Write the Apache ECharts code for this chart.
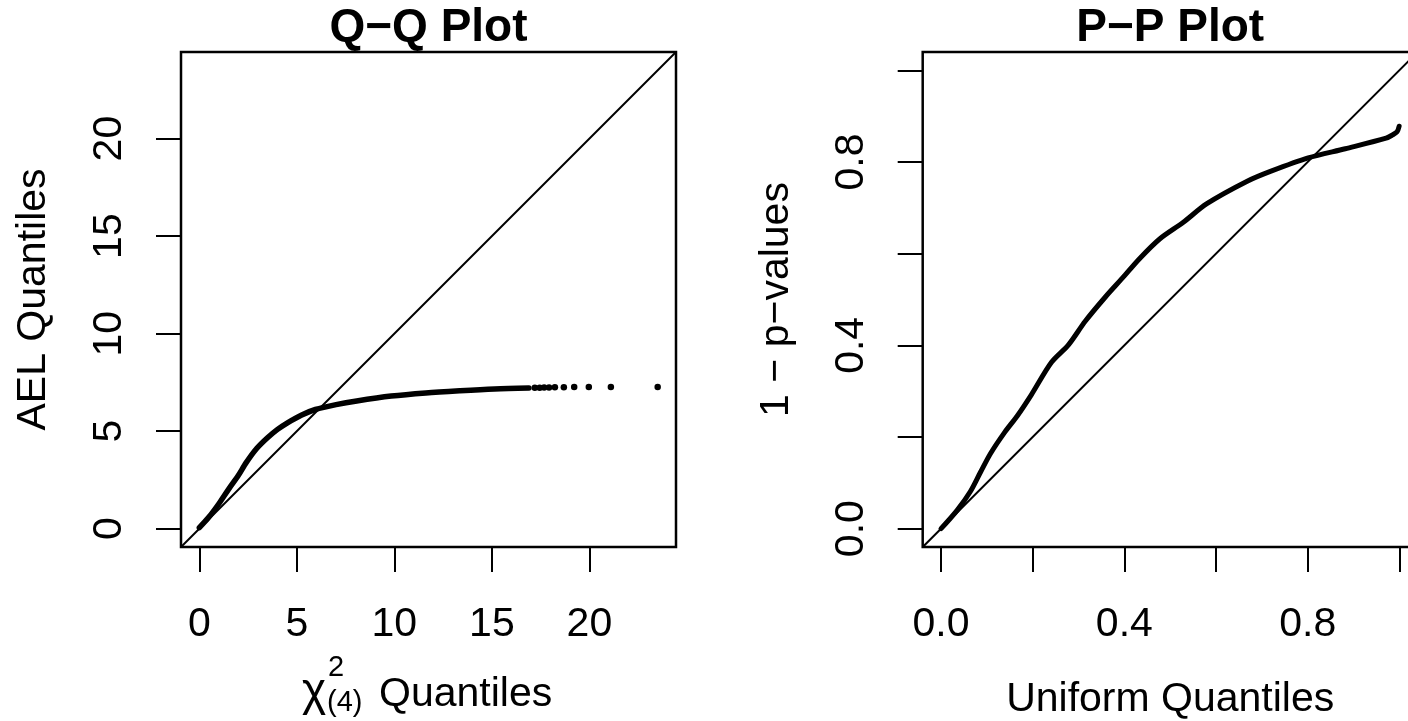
<!DOCTYPE html>
<html><head><meta charset="utf-8">
<script src="https://cdn.jsdelivr.net/npm/echarts@6/dist/echarts.min.js"></script>
<style>html,body{margin:0;padding:0;background:#fff}#c{width:1408px;height:721px}</style>
</head><body><div id="c"></div><script>
// Q-Q plot: chi-square(4) quantiles (x) vs AEL quantiles (y), dense part
const qqX = [0, 0.48, 1.01, 1.54, 1.98, 2.42, 2.95, 3.48, 4.01, 4.54, 5.25, 5.95, 7.01, 8.07, 9.84, 11.61, 13.37, 15.14, 16.9];
const qqY = [0.05, 0.58, 1.29, 2.08, 2.70, 3.41, 4.12, 4.65, 5.09, 5.44, 5.83, 6.11, 6.36, 6.55, 6.80, 6.96, 7.07, 7.16, 7.21];
// Q-Q plot: sparse tail points
const qqTailX = [17.2, 17.45, 17.68, 17.93, 18.23, 18.69, 19.22, 19.97, 21.1, 23.5];
const qqTailY = [7.22, 7.23, 7.24, 7.24, 7.25, 7.25, 7.26, 7.26, 7.27, 7.27];
// P-P plot: uniform quantiles (x) vs 1 - p-values (y)
const ppX = [0, 0.035, 0.064, 0.086, 0.108, 0.138, 0.167, 0.197, 0.241, 0.278, 0.315, 0.359, 0.396, 0.433, 0.477, 0.528, 0.580, 0.668, 0.720, 0.801, 0.882, 0.971, 0.985, 0.995, 0.9995];
const ppY = [0, 0.040, 0.081, 0.123, 0.164, 0.209, 0.247, 0.292, 0.363, 0.401, 0.453, 0.506, 0.547, 0.589, 0.632, 0.668, 0.709, 0.758, 0.780, 0.809, 0.829, 0.852, 0.859, 0.866, 0.878];
// axes
const qqLimits = [-0.94, 24.44];
const ppLimits = [-0.04, 1.04];
const qqTicks = [0, 5, 10, 15, 20];
const ppTicks = [0, 0.2, 0.4, 0.6, 0.8, 1.0];
const ppLabelTicks = [0, 0.4, 0.8];

const F = "'Liberation Sans', Arial, Helvetica, sans-serif";
const FS = 41;
const chart = echarts.init(document.getElementById('c'), null, {renderer: 'canvas'});

function zip(a, b) { return a.map((v, i) => [v, b[i]]); }

function valAxis(grid, lim, ticks, labels, isY, fmt, name, nameGap) {
  return {
    type: 'value', gridIndex: grid, min: lim[0], max: lim[1],
    axisLine: {show: false, onZero: false},
    splitLine: {show: false},
    axisTick: {show: true, length: 25, lineStyle: {color: '#000', width: 2}, customValues: ticks},
    axisLabel: {show: true, color: '#000', fontSize: FS, fontFamily: F,
      margin: isY ? 51 : 57, rotate: isY ? 90 : 0, customValues: labels,
      formatter: fmt, hideOverlap: false},
    name: name, nameLocation: 'middle', nameGap: nameGap, nameRotate: isY ? 90 : 0,
    nameTextStyle: {color: '#000', fontSize: FS, fontFamily: F}
  };
}

const intFmt = v => String(Math.round(v));
const decFmt = v => v.toFixed(1);

const gridBase = {top: 52, width: 495, height: 495, show: true, borderColor: '#000', borderWidth: 2.5,
  backgroundColor: 'transparent', containLabel: false, outerBoundsMode: 'none'};

const option = {
  animation: false,
  backgroundColor: '#fff',
  grid: [
    Object.assign({left: 181}, gridBase),
    Object.assign({left: 922.7}, gridBase)
  ],
  xAxis: [
    valAxis(0, qqLimits, qqTicks, qqTicks, false, intFmt, '', 0),
    valAxis(1, ppLimits, ppTicks, ppLabelTicks, false, decFmt, 'Uniform Quantiles', 132)
  ],
  yAxis: [
    valAxis(0, qqLimits, qqTicks, qqTicks, true, intFmt, 'AEL Quantiles', 127),
    valAxis(1, ppLimits, ppTicks, ppLabelTicks, true, decFmt, '1 \u2212 p\u2212values', 126)
  ],
  graphic: [
    {type: 'text', x: 428.5, y: 51, style: {text: 'Q\u2212Q Plot', align: 'center', verticalAlign: 'bottom', font: 'bold 46px ' + F, fill: '#000'}},
    {type: 'text', x: 1170.2, y: 51, style: {text: 'P\u2212P Plot', align: 'center', verticalAlign: 'bottom', font: 'bold 46px ' + F, fill: '#000'}},
    {type: 'text', x: 302, y: 715, style: {text: '\u03c7', align: 'left', verticalAlign: 'bottom', font: '46px ' + F, fill: '#000'}},
    {type: 'text', x: 328, y: 682, style: {text: '2', align: 'left', verticalAlign: 'bottom', font: '29px ' + F, fill: '#000'}},
    {type: 'text', x: 327, y: 717, style: {text: '(4)', align: 'left', verticalAlign: 'bottom', font: '29px ' + F, fill: '#000'}},
    {type: 'text', x: 379, y: 715, style: {text: 'Quantiles', align: 'left', verticalAlign: 'bottom', font: FS + 'px ' + F, fill: '#000'}}
  ],
  series: [
    {type: 'line', xAxisIndex: 0, yAxisIndex: 0, silent: true, symbol: 'none',
     data: [[qqLimits[0], qqLimits[0]], [qqLimits[1], qqLimits[1]]],
     lineStyle: {color: '#000', width: 2}},
    {type: 'line', xAxisIndex: 0, yAxisIndex: 0, silent: true, symbol: 'none', smooth: 0.3,
     data: zip(qqX, qqY), lineStyle: {color: '#000', width: 5.5, cap: 'round', join: 'round'}},
    {type: 'scatter', xAxisIndex: 0, yAxisIndex: 0, silent: true, symbol: 'circle', symbolSize: 6.5,
     data: zip(qqTailX, qqTailY), itemStyle: {color: '#000', opacity: 1}},
    {type: 'line', xAxisIndex: 1, yAxisIndex: 1, silent: true, symbol: 'none',
     data: [[ppLimits[0], ppLimits[0]], [ppLimits[1], ppLimits[1]]],
     lineStyle: {color: '#000', width: 2}},
    {type: 'line', xAxisIndex: 1, yAxisIndex: 1, silent: true, symbol: 'none', smooth: 0.3,
     data: zip(ppX, ppY), lineStyle: {color: '#000', width: 5, cap: 'round', join: 'round'}}
  ]
};
chart.setOption(option);
</script></body></html>
